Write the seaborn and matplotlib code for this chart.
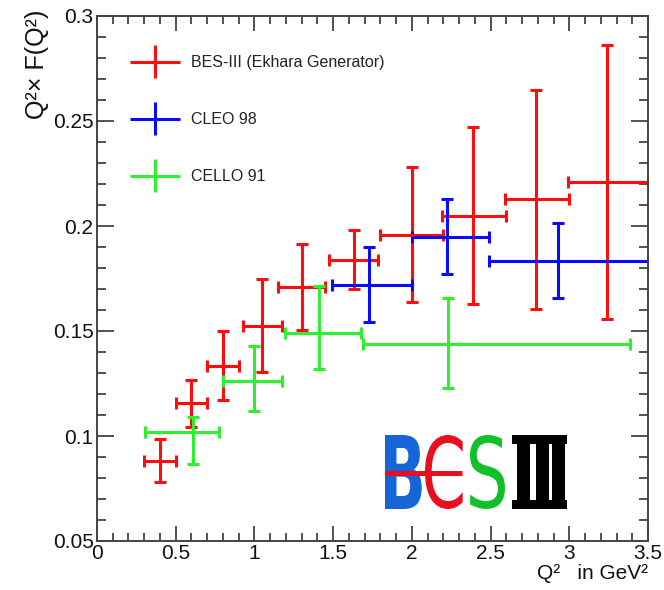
import numpy as np
import matplotlib
matplotlib.use("Agg")
import matplotlib.pyplot as plt
import seaborn as sns
from matplotlib.container import ErrorbarContainer
from matplotlib.legend_handler import HandlerErrorbar
from matplotlib.patches import Rectangle, PathPatch
from matplotlib.lines import Line2D
from matplotlib.textpath import TextPath
from matplotlib.font_manager import FontProperties
from matplotlib.transforms import Affine2D
from matplotlib.ticker import MultipleLocator, FormatStrFormatter

# BES-III projection (Ekhara generator): bin centre, bin edges, value, error
bes_q2 = [0.40, 0.60, 0.80, 1.05, 1.30, 1.63, 2.00, 2.39, 2.79, 3.24]
bes_q2_lo = [0.30, 0.50, 0.70, 0.925, 1.15, 1.475, 1.80, 2.19, 2.59, 2.99]
bes_q2_hi = [0.50, 0.70, 0.90, 1.175, 1.45, 1.785, 2.20, 2.60, 3.00, 3.50]
bes_f = [0.0882, 0.1155, 0.1335, 0.1525, 0.1708, 0.1838, 0.1957, 0.2047, 0.2127, 0.2210]
bes_err_lo = [0.0102, 0.0112, 0.0163, 0.0220, 0.0202, 0.0140, 0.0320, 0.0417, 0.0521, 0.0651]
bes_err_hi = [0.0102, 0.0112, 0.0163, 0.0222, 0.0205, 0.0142, 0.0323, 0.0425, 0.0523, 0.0651]

# CLEO 98
cleo_q2 = [1.73, 2.225, 2.93]
cleo_q2_lo = [1.495, 2.00, 2.49]
cleo_q2_hi = [2.00, 2.49, 3.50]
cleo_f = [0.1720, 0.1950, 0.1833]
cleo_err_lo = [0.0178, 0.0180, 0.0178]
cleo_err_hi = [0.0182, 0.0178, 0.0180]

# CELLO 91
cello_q2 = [0.612, 0.997, 1.410, 2.228]
cello_q2_lo = [0.305, 0.802, 1.194, 1.688]
cello_q2_hi = [0.777, 1.173, 1.675, 3.386]
cello_f = [0.1020, 0.1263, 0.1489, 0.1437]
cello_err_lo = [0.0154, 0.0144, 0.0170, 0.0210]
cello_err_hi = [0.0069, 0.0165, 0.0227, 0.0222]

series = [
    ("BES-III (Ekhara Generator)", "#ff0d0d",
     bes_q2, bes_q2_lo, bes_q2_hi, bes_f, bes_err_lo, bes_err_hi),
    ("CLEO 98", "#0a0aff",
     cleo_q2, cleo_q2_lo, cleo_q2_hi, cleo_f, cleo_err_lo, cleo_err_hi),
    ("CELLO 91", "#2ef02e",
     cello_q2, cello_q2_lo, cello_q2_hi, cello_f, cello_err_lo, cello_err_hi),
]

x_ticks = [0, 0.5, 1, 1.5, 2, 2.5, 3, 3.5]
y_ticks = [0.05, 0.1, 0.15, 0.2, 0.25, 0.3]

sns.set_theme(style="ticks")
plt.rcParams["font.family"] = ["Liberation Sans", "DejaVu Sans"]

W, H = 664, 590
fig = plt.figure(figsize=(W / 100, H / 100), dpi=100)
ax = fig.add_axes([97 / W, 1 - 541 / H, 551 / W, 525 / H])

handles = []
for label, color, q2, lo, hi, f, elo, ehi in series:
    q2 = np.asarray(q2)
    xerr = [q2 - np.asarray(lo), np.asarray(hi) - q2]
    ax.errorbar(q2, f, xerr=xerr, yerr=[elo, ehi], fmt="none", ecolor=color,
                elinewidth=2.2, capsize=4.0, capthick=2.2, zorder=2)
    sns.scatterplot(x=q2, y=f, ax=ax, color=color, s=5, linewidth=0,
                    zorder=3, legend=False)
    # cap-less proxy used only for the legend entry
    proxy = ax.errorbar([np.nan], [np.nan], xerr=[1.0], yerr=[1.0], fmt="none",
                        ecolor=color, elinewidth=2.2, capsize=0, label=label)
    handles.append(proxy)

ax.set_xlim(x_ticks[0], x_ticks[-1])
ax.set_ylim(y_ticks[0], y_ticks[-1])
ax.xaxis.set_major_locator(MultipleLocator(0.5))
ax.xaxis.set_minor_locator(MultipleLocator(0.1))
ax.yaxis.set_major_locator(MultipleLocator(0.05))
ax.yaxis.set_minor_locator(MultipleLocator(0.01))
ax.xaxis.set_major_formatter(FormatStrFormatter("%g"))
ax.yaxis.set_major_formatter(FormatStrFormatter("%g"))

for side in ["left", "right", "top", "bottom"]:
    ax.spines[side].set_visible(True)
    ax.spines[side].set_color("#444444")
    ax.spines[side].set_linewidth(1.4)

ax.tick_params(which="both", direction="in", top=True, right=True,
               color="#444444", width=1.3, labelcolor="#111111", labelsize=15)
ax.tick_params(axis="x", which="major", length=10.8, pad=2)
ax.tick_params(axis="x", which="minor", length=5.8)
ax.tick_params(axis="y", which="major", length=12.5, pad=2.5)
ax.tick_params(axis="y", which="minor", length=6.5)

ax.set_ylabel("Q²× F(Q²)", fontsize=18, color="#111111", loc="top")
ax.yaxis.set_label_coords(-0.088, 1.012)
ax.set_xlabel("Q²   in GeV²", fontsize=15, color="#111111", loc="right")
ax.xaxis.set_label_coords(1.0, -0.044)

ax.legend(handles=handles, loc="upper left", bbox_to_anchor=(0.06, 0.925),
          frameon=False, fontsize=11.5, handlelength=3.1, handletextpad=0.7,
          labelspacing=2.63, borderpad=0, borderaxespad=0, labelcolor="#222222",
          handler_map={ErrorbarContainer: HandlerErrorbar(xerr_size=1.55,
                                                          yerr_size=1.03)})


# BESIII logo in the lower right, each glyph fitted into its pixel box
def glyph(ch, box, color, weight="bold"):
    x0, y0, x1, y1 = box  # pixel box, origin top-left
    path = TextPath((0, 0), ch, size=1,
                    prop=FontProperties(family="DejaVu Sans", weight=weight))
    ext = path.get_extents()
    sx = (x1 - x0) / W / ext.width
    sy = (y1 - y0) / H / ext.height
    tr = (Affine2D().translate(-ext.x0, -ext.y0).scale(sx, sy)
          .translate(x0 / W, 1 - y1 / H))
    fig.add_artist(PathPatch(path, transform=tr + fig.transFigure,
                             facecolor=color, edgecolor="none"))


glyph("B", (385, 435, 421.7, 509), "#1565d8")
glyph("C", (425, 435, 462.7, 509), "#e8101f", weight="normal")
glyph("S", (470, 435, 505, 509), "#12c12a", weight="normal")
fig.add_artist(Line2D([385 / W, 462 / W], [1 - 472.7 / H] * 2,
                      transform=fig.transFigure, color="#e8101f", lw=3.6,
                      solid_capstyle="butt"))
# roman numeral III: top/bottom bars joined by three stems
x_l, x_r, y_t, y_b = 511.7, 566.7, 435.0, 509.0
bar_h, stem_w = 9.0, 13.0
parts = [(x_l, y_t, x_r - x_l, bar_h), (x_l, y_b - bar_h, x_r - x_l, bar_h)]
for sx in (516.5, 535.5, 551.5):
    parts.append((sx, y_t, stem_w, y_b - y_t))
for px, py, pw, ph in parts:
    fig.add_artist(Rectangle((px / W, 1 - (py + ph) / H), pw / W, ph / H,
                             transform=fig.transFigure, color="black", lw=0))

fig.savefig("out.png", dpi=100)
